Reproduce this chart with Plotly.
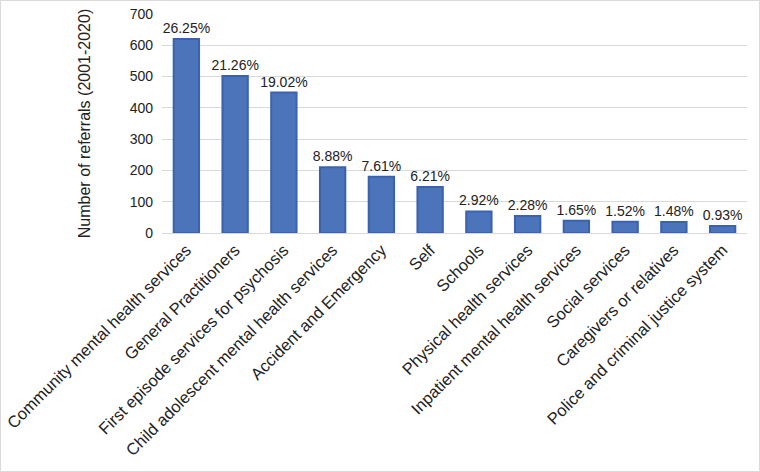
import plotly.graph_objects as go

categories = [
    "Community mental health services",
    "General Practitioners",
    "First episode services for psychosis",
    "Child adolescent mental health services",
    "Accident and Emergency",
    "Self",
    "Schools",
    "Physical health services",
    "Inpatient mental health services",
    "Social services",
    "Caregivers or relatives",
    "Police and criminal justice system",
]
referrals = [620, 502, 449, 210, 180, 147, 69, 54, 39, 36, 35, 22]
percent_labels = ["26.25%", "21.26%", "19.02%", "8.88%", "7.61%", "6.21%",
                  "2.92%", "2.28%", "1.65%", "1.52%", "1.48%", "0.93%"]
y_ticks = [0, 100, 200, 300, 400, 500, 600, 700]

fig = go.Figure()
fig.add_trace(go.Bar(
    x=categories,
    y=referrals,
    text=percent_labels,
    textposition="outside",
    constraintext="none",
    cliponaxis=False,
    textfont=dict(size=14, color="#222222"),
    marker=dict(color="#4b74bb", line=dict(color="#3b63ad", width=2)),
    width=0.52,
))

fig.update_layout(
    width=760, height=472,
    margin=dict(l=162, r=13, t=14, b=239, autoexpand=False),
    paper_bgcolor="white",
    plot_bgcolor="white",
    font=dict(family="Liberation Sans, Arial, sans-serif", size=14, color="#222222"),
    showlegend=False,
    bargap=0.48,
)
fig.update_yaxes(
    range=[0, 700],
    tickvals=y_ticks,
    automargin=False,
    showgrid=True, gridcolor="#d9d9d9", gridwidth=1,
    zeroline=False, showline=False,
    ticks="", ticklen=0,
    ticklabelstandoff=8,
    tickfont=dict(size=14),
    title=dict(text="Number of referrals (2001-2020)", font=dict(size=16), standoff=35),
)
fig.update_xaxes(
    tickangle=-45,
    automargin=False,
    tickfont=dict(size=16.5),
    showline=True, linecolor="#d9d9d9", linewidth=1,
    ticks="",
)
# light frame around the whole chart
fig.add_shape(type="rect", xref="paper", yref="paper",
              x0=-161.5/585, x1=1 + 12.5/585, y0=-238.5/219, y1=1 + 13.5/219,
              line=dict(color="#d9d9d9", width=1), fillcolor="rgba(0,0,0,0)", layer="below")

fig.write_html("out.html", config={"displayModeBar": False},
               post_script="document.body.style.margin='0px';")
